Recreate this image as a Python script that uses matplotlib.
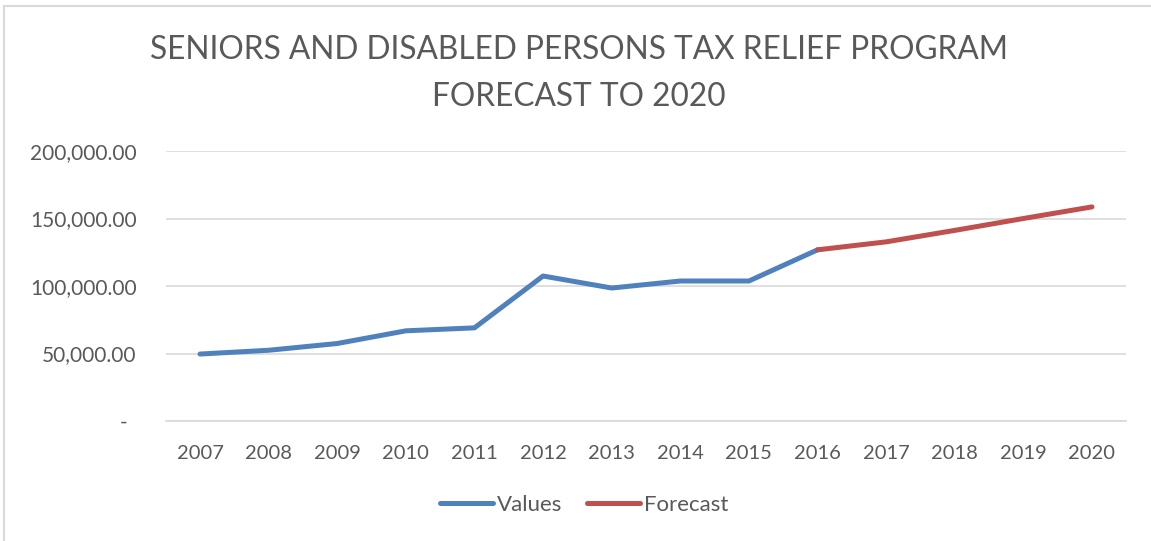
import matplotlib
matplotlib.use("Agg")
import matplotlib.pyplot as plt
from matplotlib.patches import Rectangle
from matplotlib.transforms import ScaledTranslation

plt.rcParams['font.family'] = ['Lato', 'DejaVu Sans']

years = ['2007', '2008', '2009', '2010', '2011', '2012', '2013', '2014',
         '2015', '2016', '2017', '2018', '2019', '2020']
values = [49600, 52400, 57400, 66800, 69000, 107400, 98500, 103700,
          103700, 126800]
forecast_years = ['2016', '2017', '2018', '2019', '2020']
forecast = [126800, 132700, 141200, 150000, 158600]
y_ticks = [0, 50000, 100000, 150000, 200000]
y_labels = ['-', '50,000.00', '100,000.00', '150,000.00', '200,000.00']

W, H = 1151, 541
fig = plt.figure(figsize=(W / 100, H / 100), dpi=100)
ax = fig.add_axes([165.7 / W, 1 - 421 / H, 960.6 / W, 270 / H])

text_col = '#595959'
grid_col = '#D9D9D9'

xpos = {y: i for i, y in enumerate(years)}
ax.plot([xpos[y] for y in years[:len(values)]], values, color='#4F81BD',
        lw=3.6, solid_capstyle='round', solid_joinstyle='round', label='Values')
ax.plot([xpos[y] for y in forecast_years], forecast, color='#C0504D',
        lw=3.6, solid_capstyle='round', solid_joinstyle='round', label='Forecast')

ax.set_xlim(-0.5, len(years) - 0.5)
ax.set_ylim(0, 200000)
ax.set_xticks(range(len(years)))
ax.set_xticklabels(years)
ax.set_yticks(y_ticks)
ax.set_yticklabels(y_labels)
ax.grid(axis='y', color=grid_col, lw=1.2)
ax.set_axisbelow(True)
for s in ['top', 'right', 'left']:
    ax.spines[s].set_visible(False)
ax.spines['bottom'].set_color(grid_col)
ax.spines['bottom'].set_linewidth(1.2)
ax.tick_params(axis='both', length=0, labelcolor=text_col)
ax.tick_params(axis='y', pad=21, labelsize=15)
ax.tick_params(axis='x', pad=17, labelsize=14.5)
lab0 = ax.get_yticklabels()[0]
lab0.set_transform(lab0.get_transform() + ScaledTranslation(-0.09, 0, fig.dpi_scale_trans))

fig.text(579 / W, 1 - 50 / H, 'SENIORS AND DISABLED PERSONS TAX RELIEF PROGRAM',
         ha='center', va='center', fontsize=22.8, color=text_col)
fig.text(579 / W, 1 - 97 / H, 'FORECAST TO 2020',
         ha='center', va='center', fontsize=22.8, color=text_col)

leg = fig.legend(loc='center', bbox_to_anchor=(584 / W, 1 - 505 / H), ncol=2,
                 frameon=False, fontsize=16, handlelength=2.4, handletextpad=0.18,
                 columnspacing=1.08, labelcolor=text_col)

fig.patches.append(Rectangle((4 / W, -0.1), 1.2, 1 - 6 / H + 0.1,
                             transform=fig.transFigure, fill=False,
                             edgecolor=grid_col, lw=1.5))

fig.savefig('out.png', dpi=100)
